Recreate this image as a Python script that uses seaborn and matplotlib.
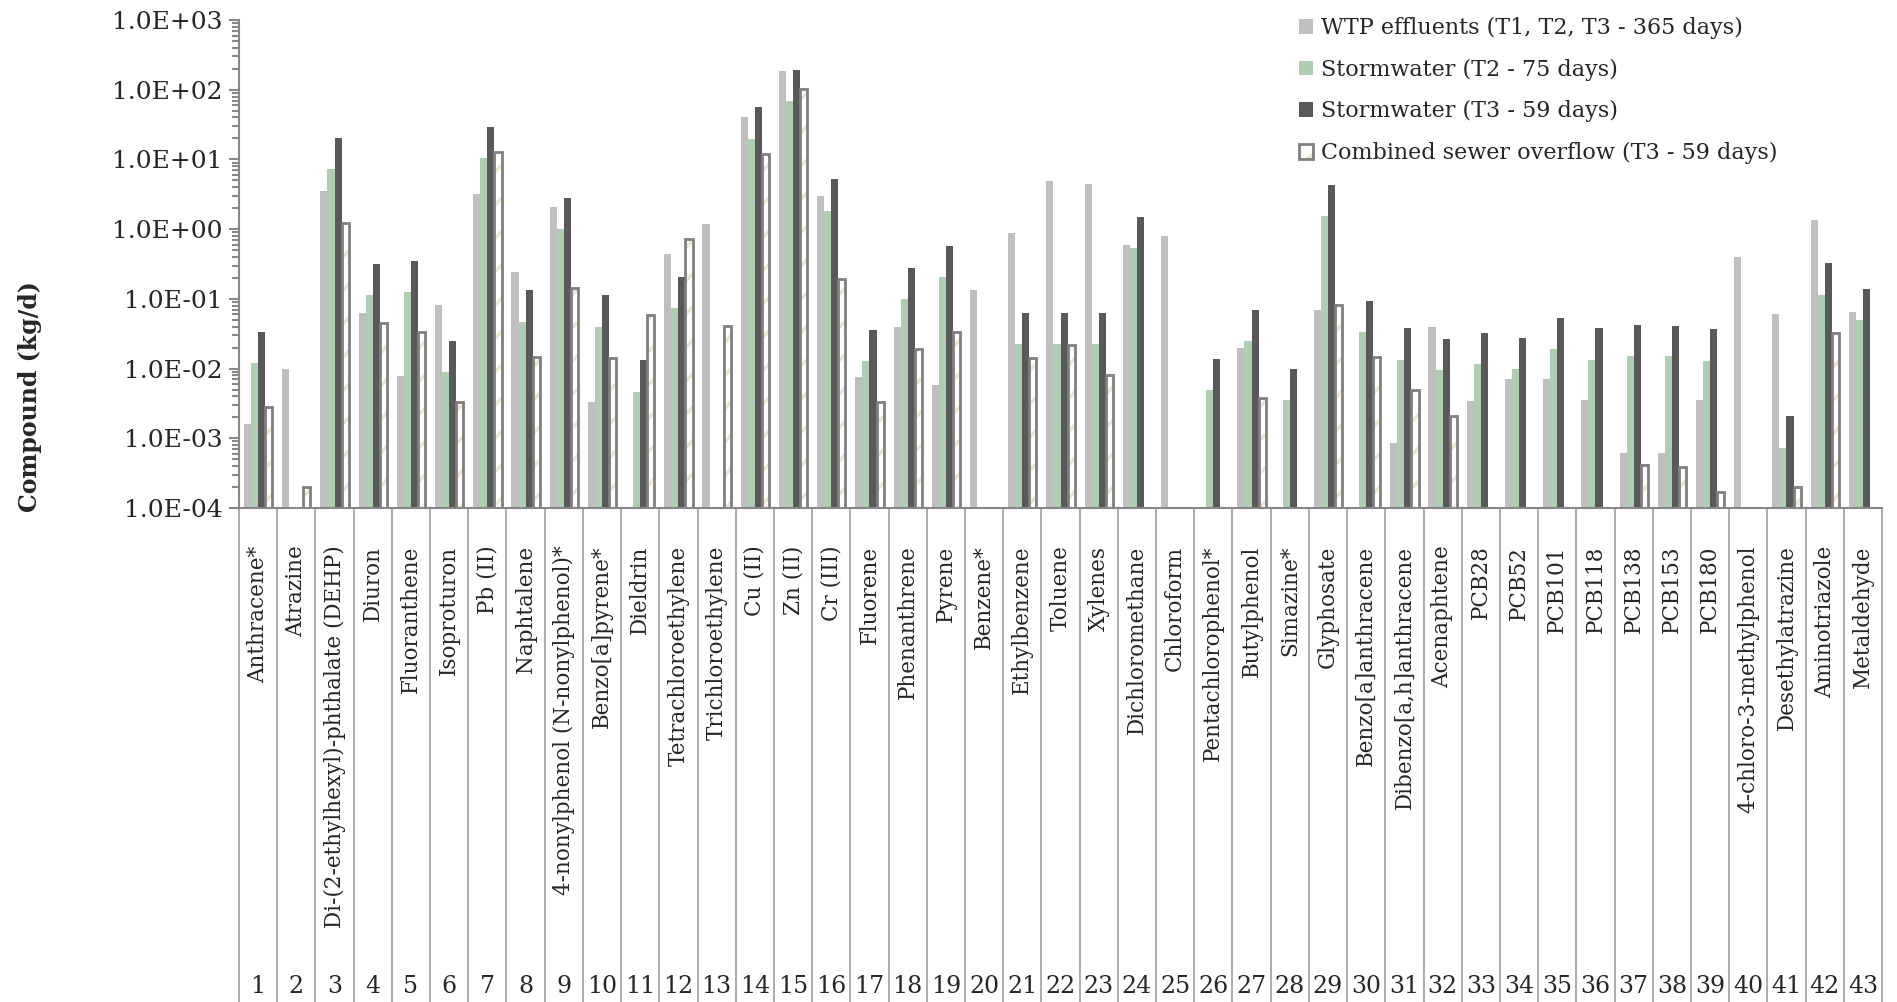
import numpy as np
import pandas as pd
import matplotlib
matplotlib.use("Agg")
import matplotlib.pyplot as plt
import seaborn as sns
from matplotlib.patches import Patch, Rectangle
from matplotlib.ticker import FuncFormatter, LogLocator, NullFormatter
from matplotlib.legend_handler import HandlerTuple

nan = np.nan

compounds = [
    "Anthracene*", "Atrazine", "Di-(2-ethylhexyl)-phthalate (DEHP)", "Diuron",
    "Fluoranthene", "Isoproturon", "Pb (II)", "Naphtalene",
    "4-nonylphenol (N-nonylphenol)*", "Benzo[a]pyrene*", "Dieldrin",
    "Tetrachloroethylene", "Trichloroethylene", "Cu (II)", "Zn (II)", "Cr (III)",
    "Fluorene", "Phenanthrene", "Pyrene", "Benzene*", "Ethylbenzene", "Toluene",
    "Xylenes", "Dichloromethane", "Chloroform", "Pentachlorophenol*",
    "Butylphenol", "Simazine*", "Glyphosate", "Benzo[a]anthracene",
    "Dibenzo[a,h]anthracene", "Acenaphtene", "PCB28", "PCB52", "PCB101",
    "PCB118", "PCB138", "PCB153", "PCB180", "4-chloro-3-methylphenol",
    "Desethylatrazine", "Aminotriazole", "Metaldehyde",
]

series = [
    "WTP effluents (T1, T2, T3 - 365 days)",
    "Stormwater (T2 - 75 days)",
    "Stormwater (T3 - 59 days)",
    "Combined sewer overflow (T3 - 59 days)",
]

wtp = [1.6e-3, 1.0e-2, 3.5, 6.2e-2, 7.8e-3, 8.3e-2, 3.2, 0.24, 2.05, 3.3e-3,
       nan, 0.44, 1.2, 40, 185, 3.0, 7.6e-3, 0.04, 5.9e-3, 0.135,
       0.89, 4.9, 4.5, 0.6, 0.79, nan, 0.0195, nan, 0.07, nan,
       8.7e-4, 0.039, 3.4e-3, 7.2e-3, 7.2e-3, 3.6e-3, 6.1e-4, 6.1e-4, 3.6e-3, 0.4,
       0.061, 1.35, 0.065]
storm_t2 = [0.0121, nan, 7.3, 0.112, 0.125, 8.8e-3, 10.6, 0.047, 0.99, 0.04,
            4.65e-3, 0.073, nan, 19.8, 69, 1.84, 0.0127, 0.099, 0.207, nan,
            0.0225, 0.0225, 0.0225, 0.54, nan, 5.0e-3, 0.025, 3.6e-3, 1.54, 0.0334,
            0.0132, 9.5e-3, 0.0116, 9.9e-3, 0.019, 0.0132, 0.015, 0.015, 0.0129, nan,
            7.3e-4, 0.115, 0.05]
storm_t3 = [0.0337, nan, 20.5, 0.312, 0.352, 0.0251, 29.4, 0.132, 2.79, 0.113,
            0.0132, 0.203, nan, 56, 194, 5.2, 0.0353, 0.28, 0.573, nan,
            0.0618, 0.0618, 0.0618, 1.49, nan, 0.0138, 0.0698, 9.9e-3, 4.3, 0.093,
            0.0377, 0.0265, 0.0327, 0.0277, 0.0536, 0.0377, 0.042, 0.041, 0.0364, nan,
            2.07e-3, 0.323, 0.138]
cso = [2.83e-3, 2.0e-4, 1.21, 0.0445, 0.033, 3.34e-3, 12.6, 0.0148, 0.143, 0.0143,
       0.059, 0.714, 0.041, 12.1, 101, 0.195, 3.27e-3, 0.019, 0.033, nan,
       0.0143, 0.0217, 8.2e-3, nan, nan, nan, 3.8e-3, nan, 0.082, 0.0145,
       5.0e-3, 2.08e-3, nan, nan, nan, nan, 4.1e-4, 3.9e-4, 1.67e-4, nan,
       2.0e-4, 0.0323, nan]

colors = ["#bfbfbf", "#afcdb1", "#595959", "#ffffff"]
edge_gray = "#7f7f7f"
hatch_beige = "#ebe6cf"
y_min, y_max = 1e-4, 1e3

df = pd.DataFrame({
    "compound": compounds * 4,
    "source": np.repeat(series, len(compounds)),
    "load": wtp + storm_t2 + storm_t3 + cso,
}).dropna()

sns.set_style("white")
plt.rcParams["font.family"] = ["DejaVu Serif"]
plt.rcParams["hatch.linewidth"] = 2.5

fig = plt.figure(figsize=(18.97, 10.02), dpi=100)
ax = fig.add_axes([0.126, 0.493, 0.8661, 0.487])

sns.barplot(data=df, x="compound", y="load", hue="source", order=compounds,
            hue_order=series, palette=colors, saturation=1, width=0.74,
            errorbar=None, legend=False, ax=ax)
ax.set_yscale("log")

# bars start at the bottom of the log axis instead of 0
for cont in ax.containers:
    for bar in cont:
        top = bar.get_y() + bar.get_height()
        bar.set_y(y_min / 10)
        bar.set_height(top - y_min / 10)
        bar.set_linewidth(0)

# hatched CSO bars with a gray outline on top
for bar in ax.containers[3]:
    bar.set_hatch("/")
    bar.set_edgecolor(hatch_beige)
    ax.add_patch(Rectangle((bar.get_x(), y_min), bar.get_width(),
                           bar.get_y() + bar.get_height() - y_min,
                           fill=False, edgecolor=edge_gray, linewidth=2))

n = len(compounds)
ax.set_xlim(-0.5, n - 0.5)
ax.set_ylim(y_min, y_max)
ax.set_xlabel("")
ax.set_ylabel("")

ax.yaxis.set_major_locator(LogLocator(base=10, numticks=10))
ax.yaxis.set_minor_locator(LogLocator(base=10, subs=np.arange(2, 10), numticks=100))
ax.yaxis.set_minor_formatter(NullFormatter())
ax.yaxis.set_major_formatter(FuncFormatter(lambda v, _: f"{v:.1E}"))
ax.tick_params(axis="y", which="major", length=7, width=1.5, color="#878787",
               labelsize=18, pad=5, left=True)
ax.tick_params(axis="y", which="minor", length=5, width=1.5, color="#878787", left=True)

ax.set_xticks(range(n))
ax.set_xticklabels(compounds, rotation=90, fontsize=15.5)
ax.set_xticks(np.arange(-0.5, n), minor=True)
ax.tick_params(axis="x", which="major", length=0, pad=27)
ax.tick_params(axis="x", which="minor", length=356, width=1.3, color="#a6a6a6", bottom=True)

for side in ["top", "right"]:
    ax.spines[side].set_visible(False)
for side in ["left", "bottom"]:
    ax.spines[side].set_color("#878787")
    ax.spines[side].set_linewidth(1.5)

for i in range(n):
    ax.text(i, -0.98, str(i + 1), transform=ax.get_xaxis_transform(),
            ha="center", va="center", fontsize=17, clip_on=False)

fig.text(30 / 1897, 1 - 397 / 1002, "Compound (kg/d)", rotation=90,
         ha="center", va="center", fontsize=17, fontweight="bold")

handles = [
    Patch(facecolor=colors[0], edgecolor="none"),
    Patch(facecolor=colors[1], edgecolor="none"),
    Patch(facecolor=colors[2], edgecolor="none"),
    (Patch(facecolor="white", edgecolor=hatch_beige, hatch="/", linewidth=0),
     Patch(facecolor="none", edgecolor=edge_gray, linewidth=2)),
]
fig.legend(handles, series, loc="upper left", bbox_to_anchor=(1299 / 1897, 1 - 17 / 1002),
           frameon=False, fontsize=16, handlelength=0.65, handleheight=0.65,
           handletextpad=0.35, labelspacing=0.88, borderpad=0, borderaxespad=0,
           handler_map={tuple: HandlerTuple(ndivide=1)})

fig.savefig("out.png", dpi=100)
